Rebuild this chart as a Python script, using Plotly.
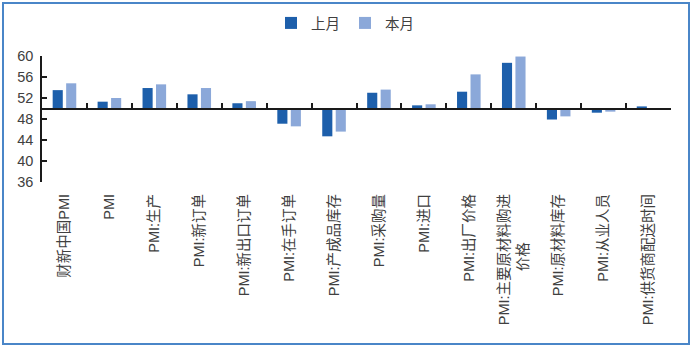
import plotly.graph_objects as go

categories = ["财新中国PMI", "PMI", "PMI:生产", "PMI:新订单", "PMI:新出口订单",
              "PMI:在手订单", "PMI:产成品库存", "PMI:采购量", "PMI:进口",
              "PMI:出厂价格", "PMI:主要原材料购进<br>价格" + "\u00a0" * 12, "PMI:原材料库存",
              "PMI:从业人员", "PMI:供货商配送时间"]
last_month = [53.5, 51.3, 53.9, 52.7, 51.0, 47.1, 44.7, 53.0, 50.6, 53.2, 58.7, 47.9, 49.2, 50.4]
this_month = [54.8, 52.0, 54.6, 53.9, 51.4, 46.6, 45.6, 53.6, 50.8, 56.5, 59.9, 48.5, 49.4, 50.0]
series_names = ["上月", "本月"]
y_ticks = [36, 40, 44, 48, 52, 56, 60]
baseline = 50

W, H = 693, 348
L, R, T, B = 42, 671, 56, 182  # plot area in px


def px_x(px):
    return (px - L) / (R - L)


def px_y(py):
    return (B - py) / (B - T)


font_family = "Liberation Sans, Arial, Noto Sans CJK SC, sans-serif"

fig = go.Figure()
for name, vals, color in [(series_names[0], last_month, "#1d5fab"),
                          (series_names[1], this_month, "#8ba8d9")]:
    fig.add_trace(go.Bar(
        x=categories, y=[v - baseline for v in vals], base=baseline,
        name=name, marker=dict(color=color, line=dict(width=0)),
        customdata=vals, hovertemplate="%{customdata}<extra>" + name + "</extra>",
    ))

# invisible trace to drive the baseline axis
fig.add_trace(go.Scatter(x=categories, y=[None] * len(categories), xaxis="x2",
                         showlegend=False, hoverinfo="skip"))

pos50 = (baseline - y_ticks[0]) / (y_ticks[-1] - y_ticks[0])

fig.update_layout(
    width=W, height=H,
    margin=dict(l=L, r=W - R, t=T, b=H - B, autoexpand=False),
    paper_bgcolor="white", plot_bgcolor="white",
    font=dict(family=font_family, color="#404040"),
    barmode="group", bargap=0.4, bargroupgap=0.25,
    showlegend=True,
    legend=dict(orientation="h", x=px_x(345), y=px_y(23), xanchor="center", yanchor="middle",
                font=dict(size=14.5, color="#404040"), itemwidth=30, tracegroupgap=0,
                bgcolor="rgba(0,0,0,0)"),
    xaxis=dict(type="category", range=[-0.5, len(categories) - 0.5], showline=False,
               ticks="", showgrid=False, tickangle=-90, ticklabelstandoff=8,
               tickfont=dict(size=14.5, color="#404040",
                             family="Liberation Sans, Noto Sans CJK SC, sans-serif")),
    xaxis2=dict(type="category", overlaying="x", anchor="free", position=pos50,
                range=[-0.5, len(categories) - 0.5], showline=True, linecolor="#1a1a1a",
                linewidth=1.5, ticks="inside", tickson="boundaries", ticklen=5,
                tickwidth=1.5, tickcolor="#1a1a1a", showticklabels=False, showgrid=False,
                side="bottom"),
    yaxis=dict(range=[y_ticks[0], y_ticks[-1]], tickvals=y_ticks, showline=True,
               linecolor="#1a1a1a", linewidth=1.5, ticks="inside", ticklen=5,
               tickwidth=1.5, tickcolor="#1a1a1a", showgrid=False, zeroline=False,
               tickfont=dict(size=14.5, color="#404040"), ticklabelstandoff=4),
    shapes=[dict(type="rect", xref="paper", yref="paper",
                 x0=px_x(3), x1=px_x(689), y0=px_y(344), y1=px_y(3),
                 line=dict(color="#4a86c8", width=2), fillcolor="rgba(0,0,0,0)")],
)

fig.write_html("out.html")
